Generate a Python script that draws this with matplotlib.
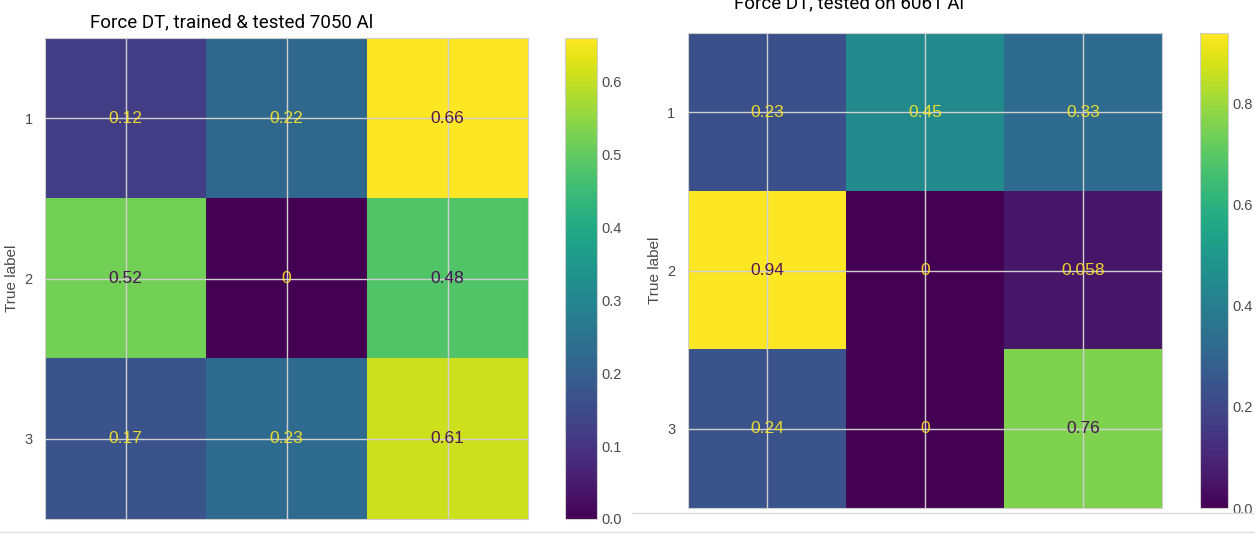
import numpy as np
import matplotlib
matplotlib.use('Agg')
import matplotlib.pyplot as plt

plt.rcParams['font.family'] = ['Liberation Sans', 'DejaVu Sans']

# confusion matrices (rows = true label, cols = predicted label)
labels = ['1', '2', '3']
cm_7050 = np.array([[0.12, 0.22, 0.66],
                    [0.52, 0.0, 0.48],
                    [0.17, 0.23, 0.61]])
cm_6061 = np.array([[0.23, 0.45, 0.33],
                    [0.94, 0.0, 0.058],
                    [0.24, 0.0, 0.76]])
title_7050 = 'Force DT, trained & tested 7050 Al'
title_6061 = 'Force DT, tested on 6061 Al'
cbar_ticks_7050 = [0.0, 0.1, 0.2, 0.3, 0.4, 0.5, 0.6]
cbar_ticks_6061 = [0.0, 0.2, 0.4, 0.6, 0.8]

W, H = 1255, 534
fig = plt.figure(figsize=(W/100, H/100), dpi=100)

def px(x0, y0, w, h):
    # pixel box (from top-left) -> figure fraction
    return [x0/W, 1-(y0+h)/H, w/W, h/H]

cmap = plt.get_cmap('viridis')
grey = '#cfcfcf'
tick_col = '#4a4a4a'

def draw_cm(ax_box, cb_box, cm, cticks, show_x=True):
    ax = fig.add_axes(px(*ax_box))
    cax = fig.add_axes(px(*cb_box))
    vmax = cm.max()
    im = ax.imshow(cm, cmap=cmap, vmin=0, vmax=vmax, aspect='auto', interpolation='nearest')
    thresh = vmax/2
    for i in range(cm.shape[0]):
        for j in range(cm.shape[1]):
            col = cmap(0) if cm[i, j] >= thresh else cmap(1.0)
            ax.text(j, i, format(cm[i, j], '.2g'), ha='center', va='center',
                    color=col, fontsize=12.5, alpha=0.9)
    ax.set_xticks(range(3))
    ax.set_yticks(range(3))
    ax.set_xticklabels(labels if show_x else [])
    ax.set_yticklabels(labels)
    ax.tick_params(length=0, colors=tick_col, labelsize=10.5, pad=9)
    ax.tick_params(axis='x', pad=12)
    ax.set_ylabel('True label', color=tick_col, fontsize=11, labelpad=4)
    ax.grid(True, color=grey, linewidth=1)
    for s in ax.spines.values():
        s.set_color(grey)
    cb = fig.colorbar(im, cax=cax, ticks=cticks)
    cb.outline.set_edgecolor(grey)
    cb.ax.tick_params(length=0, colors=tick_col, labelsize=10.5, pad=3)
    return ax

draw_cm((45, 38, 483, 481), (565, 38, 32, 481), cm_7050, cbar_ticks_7050)
draw_cm((688, 33, 474, 475), (1200, 33, 28, 475), cm_6061, cbar_ticks_6061, show_x=False)

fig.text(232/W, 1-27/H, title_7050, ha='center', va='baseline',
         fontsize=13.5, family=['Roboto', 'DejaVu Sans'])
fig.text(849/W, 1-8/H, title_6061, ha='center', va='baseline',
         fontsize=13.5, family=['Roboto', 'DejaVu Sans'])

# screenshot frame lines
fig.add_artist(plt.Line2D([632/W, 1], [1-513/H, 1-513/H], color='#dddddd', lw=1))
fig.add_artist(plt.Line2D([0, 1], [1-532/H, 1-532/H], color='#dddddd', lw=1))

fig.savefig('out.png', dpi=100)
